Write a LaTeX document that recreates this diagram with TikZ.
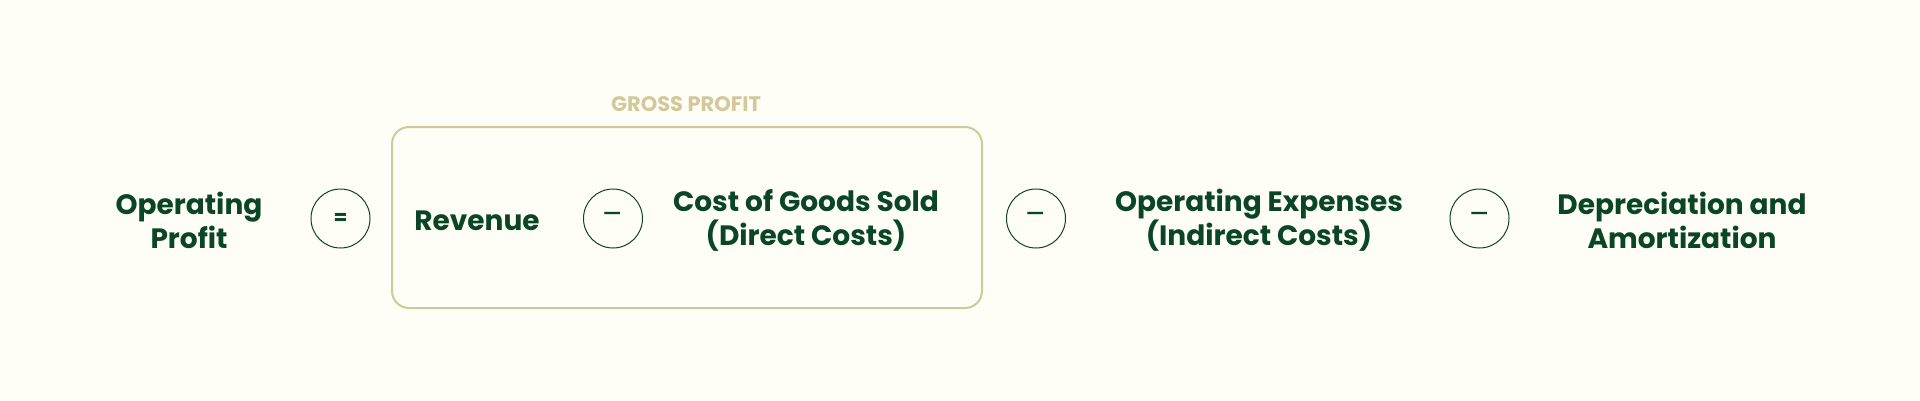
\documentclass[tikz,border=0pt]{standalone}
\usepackage{fontspec}
\setmainfont{Poppins}
\definecolor{pagebg}{HTML}{FFFEF6}
\definecolor{darkgreen}{HTML}{0A4626}
\definecolor{goldline}{HTML}{D2C89C}
\tikzset{
  term/.style={text=darkgreen, align=center, font=\fontsize{28}{34}\selectfont\bfseries},
  opcircle/.style={circle, draw=darkgreen, line width=1pt, minimum size=59pt, inner sep=0pt, text=darkgreen},
  grossbox/.style={draw=goldline, line width=2pt, rounded corners=17pt, minimum width=590pt, minimum height=181pt},
  grosslabel/.style={text=goldline, font=\fontsize{21}{24}\selectfont\bfseries}
}
\begin{document}
\begin{tikzpicture}[x=1pt,y=-1pt]
\useasboundingbox[fill=pagebg] (0,0) rectangle (1920,400);
\node (grossframe) [grossbox] at (687,217.5) {};
\node (grosstitle) [grosslabel] at (686,104) {GROSS PROFIT};
\path
	(189,220) node (opprofit) [term] {Operating\\Profit}
	(340.5,218.5) node (eqsign) [opcircle, font=\fontsize{20}{20}\selectfont\bfseries] {=}
	(477,220.5) node (revenue) [term] {Revenue}
	(613,218.5) node (minusa) [opcircle, font=\fontsize{30}{30}\selectfont] {–}
	(806,220) node (cogs) [term] {Cost of Goods Sold\\(Direct Costs)}
	(1036,218.5) node (minusb) [opcircle, font=\fontsize{30}{30}\selectfont] {–}
	(1259,220) node (opex) [term] {Operating Expenses\\(Indirect Costs)}
	(1479.5,218.5) node (minusc) [opcircle, font=\fontsize{30}{30}\selectfont] {–}
	(1682,220) node (deprec) [term] {Depreciation and\\Amortization};
\end{tikzpicture}
\end{document}
